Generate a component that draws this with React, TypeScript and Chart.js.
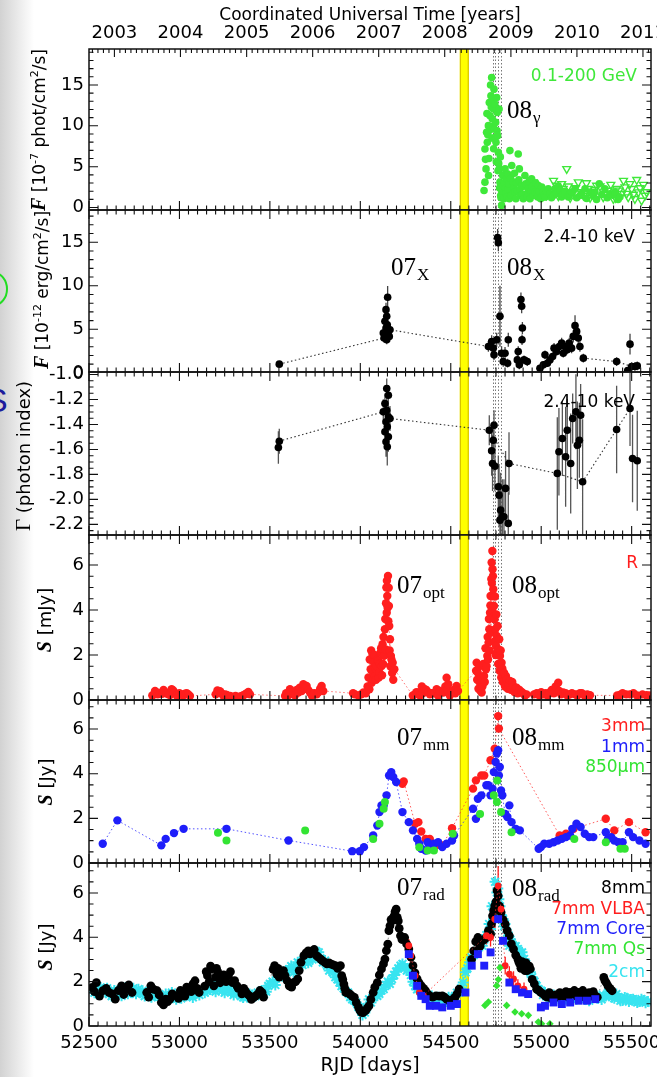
import { useEffect, useRef } from 'react';
import { Chart, registerables } from 'chart.js';

Chart.register(...registerables);

// ---------------- axes / reference marks ----------------
const X_MIN = 52500;
const X_MAX = 55607;
const RJD_TICKS = [52500, 53000, 53500, 54000, 54500, 55000, 55500];
const YEAR_TICKS = [52640.5, 53005.5, 53371.5, 53736.5, 54101.5, 54466.5, 54832.5, 55197.5, 55562.5];
const YEAR_LABELS = ['2003', '2004', '2005', '2006', '2007', '2008', '2009', '2010', '2011'];
const FLARE_BAND = [54550, 54600];
const EPOCH_LINES = [54733, 54747, 54761, 54775];

const GAMMA_TICKS = [0, 5, 10, 15];
const XRAY_TICKS = [0, 5, 10, 15];
const INDEX_TICKS = [-1.0, -1.2, -1.4, -1.6, -1.8, -2.0, -2.2];
const OPT_TICKS = [0, 2, 4, 6];
const MM_TICKS = [0, 2, 4, 6];
const RAD_TICKS = [0, 2, 4, 6];

type P = [number, number];

// ---------------- gamma rays 0.1-200 GeV (RJD, 1e-7 ph/cm2/s) ----------------
const GAMMA: P[] = [
  [54684, 2.09], [54689, 3.11], [54689, 7.17], [54692, 5.9], [54695, 4.73], [54698, 9.21], [54700, 11.5], [54702, 7.98],
  [54705, 8.9], [54708, 10.02], [54709, 3.92], [54711, 6.0], [54713, 12.86], [54715, 9.5], [54717, 11.24], [54720, 15.0],
  [54722, 13.68], [54724, 12.3], [54726, 15.91], [54728, 8.5], [54730, 10.83], [54731, 13.27], [54733, 9.9], [54735, 12.05],
  [54737, 7.2], [54739, 14.49], [54741, 9.61], [54744, 12.66], [54746, 8.6], [54748, 10.42], [54750, 7.98], [54752, 5.6],
  [54754, 13.47], [54756, 9.4], [54757, 11.64], [54759, 8.80], [54761, 4.5], [54763, 6.77], [54765, 5.4], [54767, 12.05],
  [54768, 4.73], [54770, 2.4], [54772, 3.11], [54774, 6.2], [54776, 1.48], [54778, 1.2], [54781, 0.26], [54783, 2.0],
  [54787, 3.92], [54790, 2.70], [54794, 1.07], [54796, 3.0], [54800, 4.73], [54803, 2.4], [54805, 1.68], [54809, 3.51],
  [54812, 1.3], [54815, 4.1], [54818, 2.30], [54821, 2.9], [54824, 1.07], [54827, 6.97], [54831, 3.6], [54834, 1.5],
  [54837, 5.14], [54842, 1.68], [54846, 3.11], [54849, 2.4], [54852, 4.2], [54855, 1.89], [54860, 1.07], [54864, 3.0],
  [54868, 2.1], [54873, 6.56], [54876, 3.4], [54879, 4.73], [54883, 2.2], [54886, 1.48], [54892, 2.70], [54896, 1.6],
  [54901, 1.07], [54905, 2.6], [54910, 3.92], [54914, 2.9], [54919, 1.68], [54923, 1.3], [54929, 2.30], [54933, 3.2],
  [54938, 1.07], [54943, 2.0], [54947, 3.51], [54951, 2.6], [54956, 1.48], [54960, 2.2], [54966, 1.89], [54970, 3.0],
  [54975, 1.68], [54980, 1.3], [54984, 2.70], [54990, 2.0], [54997, 1.07], [55003, 2.5], [55012, 1.89], [55016, 1.5],
  [55021, 1.28], [55030, 2.0], [55039, 2.30], [55048, 1.68], [55057, 1.2], [55067, 1.48], [55076, 2.30], [55085, 1.7],
  [55095, 2.6], [55104, 2.09], [55113, 1.3], [55122, 1.68], [55131, 2.0], [55150, 1.3], [55159, 1.68], [55168, 1.9],
  [55187, 2.30], [55196, 1.2], [55214, 1.48], [55223, 1.7], [55242, 2.30], [55251, 1.1], [55270, 1.89], [55288, 1.4],
  [55297, 1.89], [55306, 1.0], [55321, 2.90], [55335, 1.6], [55352, 2.30], [55365, 1.2], [55380, 1.68], [55395, 1.5],
  [55408, 1.89], [55425, 1.0], [55435, 1.28],
];
const GAMMA_UL: P[] = [
  [54956, 3.11], [55030, 1.48], [55050, 2.0], [55068, 3.3], [55085, 2.70], [55095, 1.4], [55113, 2.9], [55122, 2.30],
  [55141, 4.73], [55150, 2.6], [55160, 1.2], [55177, 1.89], [55190, 2.4], [55205, 3.11], [55220, 1.9], [55233, 1.48],
  [55250, 3.0], [55260, 2.30], [55270, 1.2], [55288, 1.68], [55297, 2.2], [55306, 2.70], [55325, 2.6], [55343, 1.28],
  [55355, 1.6], [55371, 2.09], [55385, 2.8], [55399, 1.07], [55410, 1.2], [55417, 2.30], [55430, 2.1], [55445, 1.68],
  [55455, 3.3], [55463, 2.50], [55472, 1.7], [55481, 1.28], [55490, 2.9], [55500, 2.30], [55510, 1.6], [55518, 1.07],
  [55528, 3.4], [55537, 1.89], [55546, 2.4], [55555, 0.87], [55565, 2.8], [55574, 1.48], [55582, 1.9],
];

// ---------------- X-rays 2.4-10 keV (RJD, flux, error) ----------------
const XRAY_RJD = [53552, 54127, 54131, 54136, 54136, 54142, 54142, 54146, 54146, 54149,
  54151, 54155, 54160, 54164, 54708, 54726, 54735, 54739, 54754, 54759,
  54763, 54772, 54781, 54790, 54800, 54814, 54818, 54868, 54873, 54879,
  54888, 54892, 54894, 54896, 54905, 54923, 54993, 55012, 55021, 55034,
  55048, 55063, 55071, 55085, 55100, 55113, 55122, 55131, 55144, 55155,
  55168, 55177, 55187, 55196, 55205, 55214, 55233, 55417, 55478, 55491,
  55500, 55518, 55531];
const XRAY_FLUX = [1.00, 4.57, 4.00, 5.92, 4.38, 7.26, 5.15, 6.49, 3.80, 5.53,
  8.68, 4.76, 4.19, 4.95, 3.03, 3.61, 2.84, 2.07, 3.80, 15.53,
  14.95, 6.49, 2.26, 1.30, 2.26, 1.11, 3.80, 1.49, 2.46, 0.92,
  8.42, 7.65, 3.80, 5.15, 1.49, 1.30, 0.53, 0.92, 2.07, 1.11,
  1.49, 1.88, 2.84, 2.46, 3.03, 3.42, 2.26, 3.03, 2.65, 3.42,
  2.84, 4.19, 5.42, 4.76, 4.00, 3.03, 1.69, 1.30, 0.27, 3.30,
  0.73, 0.73, 0.80];
const XRAY_ERR = [0.3, 0.5, 0.5, 0.6, 0.5, 0.8, 0.6, 0.7, 0.5, 0.6,
  1.3, 0.5, 0.5, 0.6, 0.6, 0.7, 0.6, 0.6, 0.8, 1.0,
  1.0, 3.5, 0.8, 0.6, 0.7, 0.5, 0.8, 0.6, 0.6, 0.5,
  0.8, 0.8, 0.6, 0.7, 0.5, 0.5, 0.4, 0.4, 0.5, 0.4,
  0.5, 0.5, 0.6, 0.5, 0.6, 0.6, 0.5, 0.6, 0.5, 0.6,
  0.6, 0.7, 1.2, 0.8, 0.7, 0.6, 0.5, 0.5, 0.4, 1.2,
  0.5, 0.5, 0.5];
const XRAY_LINK_A_RJD = [53552, 54131, 54164, 54708];
const XRAY_LINK_A_FLUX = [1.00, 4.00, 4.95, 3.03];
const XRAY_LINK_B_RJD = [55233, 55417, 55500];
const XRAY_LINK_B_FLUX = [1.69, 1.30, 0.73];

// ---------------- X-ray photon index ----------------
const INDEX_RJD = [53547, 53552, 54127, 54136, 54136, 54142, 54142, 54146, 54146, 54149,
  54149, 54155, 54155, 54155, 54164, 54713, 54726, 54731, 54735, 54739,
  54744, 54763, 54767, 54772, 54776, 54785, 54794, 54803, 54818, 54822,
  55089, 55098, 55117, 55135, 55144, 55163, 55174, 55192, 55200, 55211,
  55218, 55229, 55417, 55491, 55505, 55531];
const INDEX_VAL = [-1.584, -1.534, -1.299, -1.232, -1.459, -1.379, -1.539, -1.112, -1.286, -1.419,
  -1.579, -1.166, -1.339, -1.499, -1.352, -1.446, -1.611, -1.712, -1.526, -1.406,
  -1.734, -1.899, -1.966, -2.166, -2.086, -2.139, -2.139, -1.912, -2.192, -1.712,
  -1.792, -1.619, -1.512, -1.659, -1.446, -1.712, -1.352, -1.299, -1.566, -1.526,
  -1.326, -1.859, -1.440, -1.272, -1.672, -1.691];
const INDEX_ERR = [0.13, 0.10, 0.10, 0.08, 0.10, 0.10, 0.12, 0.08, 0.10, 0.10,
  0.15, 0.08, 0.10, 0.12, 0.10, 0.12, 0.20, 0.22, 0.15, 0.12,
  0.20, 0.25, 0.25, 0.30, 0.30, 0.30, 0.30, 0.30, 0.25, 0.25,
  0.45, 0.35, 0.30, 0.40, 0.25, 0.40, 0.20, 0.30, 0.35, 0.30,
  0.25, 0.50, 0.35, 0.30, 0.35, 0.40];
const INDEX_LINK_RJD = [53550, 54127, 54164, 54713, 54822, 55089, 55229, 55417, 55491];
const INDEX_LINK_VAL = [-1.534, -1.299, -1.352, -1.446, -1.712, -1.792, -1.859, -1.440, -1.272];

// ---------------- optical R band (RJD, mJy) ----------------
const OPT: P[] = [
  [52850, 0.20], [52859, 0.25], [52865, 0.40], [52874, 0.33], [52880, 0.25], [52893, 0.30], [52905, 0.28], [52912, 0.45],
  [52920, 0.36], [52928, 0.30], [52939, 0.25], [52948, 0.22], [52957, 0.48], [52965, 0.42], [52970, 0.36], [52985, 0.20],
  [53000, 0.30], [53012, 0.25], [53020, 0.20], [53031, 0.28], [53040, 0.30], [53049, 0.25], [53058, 0.18],
  [53200, 0.25], [53210, 0.42], [53215, 0.33], [53224, 0.39], [53232, 0.30], [53242, 0.20], [53252, 0.25], [53262, 0.22],
  [53280, 0.18], [53290, 0.15], [53310, 0.18], [53330, 0.15], [53344, 0.18], [53352, 0.20], [53362, 0.25], [53372, 0.30],
  [53381, 0.36], [53390, 0.25],
  [53584, 0.18], [53590, 0.30], [53600, 0.20], [53611, 0.48], [53620, 0.35], [53630, 0.25], [53639, 0.21], [53648, 0.45],
  [53657, 0.33], [53665, 0.55], [53676, 0.40], [53685, 0.70], [53695, 0.50], [53703, 0.62], [53712, 0.45], [53722, 0.33],
  [53732, 0.20], [53745, 0.30], [53759, 0.25], [53770, 0.35], [53778, 0.50], [53786, 0.62], [53795, 0.40],
  [53960, 0.30], [53970, 0.25], [53990, 0.20], [54005, 0.25], [54017, 0.33], [54030, 0.30], [54040, 0.60], [54045, 1.00],
  [54050, 0.48], [54052, 1.80], [54057, 1.37], [54060, 2.20], [54063, 0.77], [54066, 1.30], [54068, 2.03], [54072, 0.90],
  [54075, 1.66], [54078, 2.00], [54081, 1.07], [54084, 1.40], [54087, 0.90], [54090, 1.51], [54094, 1.80], [54099, 1.74],
  [54102, 1.00], [54105, 1.22], [54108, 1.60], [54112, 2.11], [54115, 2.30], [54118, 1.51], [54120, 1.10], [54123, 2.48],
  [54126, 1.60], [54128, 2.80], [54131, 1.96], [54134, 2.00], [54136, 3.14], [54138, 3.60], [54140, 2.25], [54142, 4.30],
  [54144, 5.00], [54146, 3.88], [54147, 5.30], [54149, 4.62], [54151, 4.10], [54153, 5.51], [54155, 3.50], [54157, 4.99],
  [54158, 4.18], [54160, 3.29], [54162, 2.20], [54164, 2.70], [54166, 1.50], [54169, 1.96], [54172, 1.80], [54176, 1.20],
  [54179, 1.66], [54182, 0.90], [54188, 1.37],
  [54290, 0.20], [54302, 0.25], [54310, 0.35], [54321, 0.33], [54330, 0.20], [54340, 0.60], [54345, 0.30], [54357, 0.48],
  [54365, 0.45], [54376, 0.33], [54385, 0.25], [54395, 0.30], [54410, 0.30], [54422, 0.48], [54430, 0.20], [54440, 0.40],
  [54459, 0.33], [54470, 0.60], [54477, 0.99], [54480, 0.45], [54486, 0.70], [54495, 0.20], [54505, 0.33], [54515, 0.45],
  [54525, 0.30], [54532, 0.62], [54540, 0.40],
  [54640, 1.30], [54643, 1.66], [54646, 0.90], [54649, 1.22], [54653, 0.50], [54657, 1.50], [54661, 0.77], [54665, 0.40],
  [54667, 1.00], [54671, 0.33], [54675, 0.60], [54680, 1.60], [54684, 1.07], [54688, 0.80], [54692, 2.30], [54695, 1.37],
  [54698, 1.50], [54702, 1.96], [54704, 2.80], [54706, 1.80], [54709, 2.55], [54711, 3.60], [54713, 3.14], [54715, 2.20],
  [54717, 3.88], [54719, 4.20], [54720, 4.62], [54722, 3.00], [54724, 5.37], [54726, 6.11], [54727, 5.20], [54729, 4.00],
  [54730, 6.62], [54731, 5.81], [54733, 5.50], [54735, 4.92], [54737, 3.70], [54739, 4.18], [54741, 2.60], [54742, 3.59],
  [54744, 4.60], [54746, 3.14], [54748, 2.00], [54750, 2.40], [54752, 3.80], [54754, 2.85], [54757, 2.10], [54759, 3.29],
  [54762, 1.60], [54765, 2.25], [54768, 2.70], [54770, 1.30], [54772, 1.96], [54776, 2.20], [54779, 1.00], [54781, 1.66],
  [54785, 1.40], [54788, 0.80], [54790, 1.22], [54795, 1.20], [54800, 0.60], [54805, 1.07], [54810, 0.90], [54815, 0.50],
  [54822, 0.70], [54827, 0.85], [54832, 0.45], [54840, 0.80], [54846, 0.62], [54852, 0.35], [54858, 0.50], [54864, 0.55],
  [54870, 0.30], [54880, 0.45], [54892, 0.36], [54900, 0.30], [54910, 0.20], [54919, 0.25],
  [54960, 0.25], [54975, 0.30], [54990, 0.20], [55000, 0.35], [55012, 0.25], [55025, 0.30], [55035, 0.20], [55048, 0.33],
  [55058, 0.45], [55070, 0.30], [55080, 0.60], [55094, 0.77], [55100, 0.40], [55110, 0.25], [55122, 0.33], [55135, 0.30],
  [55145, 0.20], [55159, 0.25], [55170, 0.30], [55190, 0.25], [55200, 0.20], [55214, 0.30], [55225, 0.30], [55240, 0.20],
  [55255, 0.25], [55270, 0.21],
  [55420, 0.20], [55435, 0.22], [55450, 0.30], [55470, 0.25], [55491, 0.25], [55510, 0.30], [55530, 0.20], [55560, 0.25],
  [55583, 0.21], [55600, 0.20],
];

// ---------------- mm (RJD, Jy) ----------------
const MM1_RJD = [52576, 52657, 52900, 52924, 52970, 53023, 53260, 53603, 53955, 53997,
  54020, 54071, 54094, 54106, 54117, 54129, 54145, 54159, 54171, 54182,
  54198, 54233, 54268, 54291, 54314, 54326, 54337, 54361, 54372, 54384,
  54407, 54430, 54453, 54477, 54507, 54518, 54623, 54639, 54650, 54669,
  54697, 54708, 54720, 54731, 54738, 54748, 54755, 54762, 54766, 54771,
  54778, 54785, 54801, 54813, 54824, 54836, 54859, 54882, 54986, 54998,
  55017, 55044, 55068, 55091, 55114, 55137, 55160, 55172, 55195, 55218,
  55241, 55265, 55288, 55357, 55369, 55387, 55404, 55427, 55450, 55485,
  55508, 55543, 55577];
const MM1_FLUX = [0.86, 1.91, 0.79, 1.08, 1.34, 1.53, 1.53, 1.01, 0.53, 0.53,
  0.71, 1.23, 1.68, 2.28, 2.58, 2.58, 3.03, 3.92, 4.07, 3.85,
  3.63, 2.28, 1.83, 1.46, 1.08, 0.86, 0.64, 0.56, 0.93, 0.71,
  0.86, 0.93, 0.71, 0.86, 1.01, 1.23, 2.43, 1.98, 2.88, 3.03,
  3.48, 3.48, 3.03, 3.33, 4.07, 4.52, 4.90, 5.05, 3.92, 4.30,
  3.25, 3.03, 2.20, 2.06, 2.58, 1.83, 1.53, 1.46, 0.64, 0.71,
  0.86, 0.86, 0.93, 1.01, 1.08, 1.16, 1.23, 1.53, 1.76, 1.61,
  1.31, 1.16, 1.16, 1.38, 1.08, 1.16, 1.01, 0.93, 0.93, 1.38,
  1.16, 1.01, 0.86];
const MM3_RJD = [54233, 54240, 54303, 54321, 54337, 54361, 54384, 54419, 54453, 54507,
  54623, 54639, 54669, 54685, 54720, 54743, 54762, 54766, 55102, 55137,
  55179, 55357, 55404, 55485, 55577];
const MM3_FLUX = [3.55, 3.65, 1.76, 1.83, 1.41, 1.08, 1.08, 0.79, 0.79, 1.56,
  3.33, 3.70, 3.92, 3.92, 4.60, 5.12, 6.58, 6.02, 1.23, 1.31,
  1.53, 1.98, 1.46, 1.83, 1.38];
const SUBMM_RJD = [53213, 53260, 53695, 54071, 54106, 54129, 54136, 54326, 54372, 54407,
  54511, 54662, 54738, 54755, 54757, 54778, 54836, 55183, 55357, 55438, 55462];
const SUBMM_FLUX = [1.35, 1.01, 1.46, 1.08, 1.76, 2.43, 2.73, 0.71, 0.56, 0.56,
  1.31, 2.20, 3.03, 2.73, 3.70, 2.28, 1.38, 1.08, 0.93, 0.64, 0.64];

// ---------------- radio (RJD, Jy) ----------------
const R8: P[] = [
  [52518, 1.74], [52530, 1.55], [52541, 1.96], [52558, 1.35], [52576, 1.59], [52595, 1.70], [52611, 1.51], [52628, 1.45],
  [52645, 1.21], [52662, 1.60], [52680, 1.81], [52692, 1.42], [52703, 1.66], [52720, 1.85], [52738, 1.51],
  [52819, 1.51], [52830, 1.30], [52842, 1.81], [52858, 1.65], [52877, 1.59], [52888, 1.40], [52900, 1.06], [52912, 0.95],
  [52924, 1.21], [52935, 1.10], [52947, 1.21], [52960, 1.45], [52982, 1.36], [52995, 1.25], [53005, 1.60], [53016, 1.51],
  [53030, 1.35], [53040, 1.75], [53051, 1.66], [53065, 1.55], [53075, 1.90], [53086, 2.04], [53098, 1.70], [53109, 1.51],
  [53140, 1.80], [53148, 2.45], [53155, 2.27], [53165, 2.00], [53172, 2.70], [53179, 2.57], [53190, 1.81], [53200, 2.20],
  [53205, 2.60], [53213, 2.42], [53225, 1.95], [53236, 2.12], [53245, 2.30], [53258, 2.00], [53271, 2.27], [53282, 2.45],
  [53294, 1.96], [53305, 2.05], [53318, 1.81], [53325, 1.70], [53345, 1.45], [53355, 1.70], [53364, 1.59], [53375, 1.45],
  [53387, 1.36], [53398, 1.20], [53410, 1.29], [53420, 1.35], [53433, 1.44], [53445, 1.60], [53457, 1.51], [53465, 1.30],
  [53518, 2.55], [53526, 2.72], [53538, 2.34], [53545, 2.60], [53552, 2.20], [53561, 2.42], [53575, 2.50], [53584, 2.27],
  [53595, 2.05], [53607, 1.81], [53620, 1.75], [53631, 1.96], [53642, 2.00], [53654, 2.12], [53662, 2.50], [53672, 2.87],
  [53688, 3.17], [53700, 3.30], [53712, 3.39], [53722, 3.25], [53735, 3.39], [53745, 3.45], [53758, 3.17], [53768, 3.10],
  [53781, 3.02], [53790, 2.95], [53804, 2.87], [53815, 2.80], [53827, 2.85], [53839, 2.79], [53850, 2.75], [53862, 2.72],
  [53875, 2.60], [53890, 2.72], [53897, 2.27], [53903, 2.10], [53909, 1.89], [53914, 1.70], [53920, 1.51], [53930, 1.50],
  [53943, 1.44], [53955, 1.35], [53967, 1.29], [53978, 1.05], [53990, 0.84], [53998, 0.70], [54006, 0.61], [54015, 0.60],
  [54029, 0.69], [54038, 0.80], [54048, 0.91], [54058, 1.20], [54071, 1.51], [54080, 1.75], [54094, 1.96], [54105, 2.30],
  [54117, 2.57], [54128, 2.80], [54136, 3.02], [54144, 3.40], [54152, 3.69], [54158, 4.30], [54164, 4.52], [54170, 4.80],
  [54175, 4.74], [54181, 4.85], [54187, 4.97], [54192, 5.15], [54198, 5.27], [54204, 4.90], [54210, 4.74], [54215, 4.40],
  [54222, 4.07], [54230, 3.90], [54245, 3.99], [54256, 3.70], [54268, 3.47], [54280, 3.10], [54291, 2.72], [54302, 2.40],
  [54314, 2.12], [54325, 1.95], [54337, 1.81], [54349, 1.70], [54361, 1.59], [54372, 1.45], [54384, 1.36], [54400, 1.30],
  [54419, 1.36], [54436, 1.35], [54453, 1.36], [54465, 1.30], [54477, 1.21], [54488, 1.15], [54500, 1.06], [54511, 1.20],
  [54523, 1.29], [54535, 1.45], [54546, 1.66],
  [54615, 3.00], [54627, 3.39], [54638, 3.80], [54650, 3.99], [54662, 3.60], [54674, 3.84], [54685, 3.90], [54697, 3.99],
  [54708, 4.30], [54720, 4.14], [54725, 4.60], [54731, 4.97], [54737, 5.20], [54743, 5.42], [54750, 5.60], [54756, 6.10],
  [54762, 5.87], [54770, 5.40], [54778, 5.12], [54789, 4.80], [54801, 4.59], [54812, 4.30], [54824, 4.07], [54835, 3.70],
  [54847, 3.47], [54859, 3.20], [54871, 3.02], [54876, 2.90], [54882, 2.79], [54888, 2.60], [54894, 2.90], [54905, 2.72],
  [54910, 2.50], [54916, 2.85], [54922, 2.50], [54928, 2.64], [54934, 2.70], [54940, 2.57], [54950, 2.10], [54962, 1.90],
  [54975, 1.66], [54987, 1.60], [54998, 1.51], [55010, 1.45], [55021, 1.36], [55033, 1.30], [55045, 1.50], [55057, 1.25],
  [55068, 1.36], [55080, 1.40], [55091, 1.30], [55103, 1.50], [55114, 1.44], [55125, 1.35], [55137, 1.55], [55149, 1.30],
  [55160, 1.51], [55172, 1.45], [55183, 1.60], [55195, 1.35], [55207, 1.51], [55218, 1.45], [55230, 1.60], [55241, 1.30],
  [55253, 1.44], [55265, 1.50], [55276, 1.35], [55288, 1.55], [55299, 1.36], [55310, 1.30],
  [55346, 2.19], [55352, 2.05], [55360, 1.95], [55369, 1.81], [55380, 1.70], [55392, 1.59],
];
const R2CM: P[] = [
  [52518, 1.66], [52530, 1.50], [52540, 1.60], [52553, 1.44], [52564, 1.74], [52590, 1.55], [52600, 1.70], [52611, 1.44],
  [52625, 1.35], [52640, 1.60], [52657, 1.59], [52670, 1.50], [52680, 1.36], [52690, 1.60], [52703, 1.74], [52715, 1.45],
  [52730, 1.55], [52745, 1.70], [52760, 1.45], [52773, 1.66], [52785, 1.50], [52796, 1.59], [52808, 1.35], [52819, 1.44],
  [52830, 1.50], [52845, 1.30], [52866, 1.36], [52880, 1.40], [52895, 1.30], [52910, 1.25], [52924, 1.44], [52940, 1.35],
  [52958, 1.51], [52970, 1.30], [52982, 1.21], [52995, 1.40], [53010, 1.25], [53025, 1.45], [53039, 1.36], [53050, 1.40],
  [53062, 1.55], [53074, 1.29], [53085, 1.45], [53097, 1.51], [53110, 1.40], [53125, 1.60], [53140, 1.50], [53155, 1.59],
  [53168, 1.65], [53179, 1.74], [53190, 1.80], [53200, 1.55], [53213, 1.96], [53225, 1.75], [53236, 1.59], [53250, 1.50],
  [53260, 1.70], [53271, 1.66], [53285, 1.55], [53300, 1.40], [53315, 1.60], [53329, 1.51], [53340, 1.35], [53352, 1.29],
  [53365, 1.45], [53375, 1.30], [53387, 1.44], [53400, 1.40], [53420, 1.35], [53433, 1.51], [53445, 1.45], [53455, 1.60],
  [53468, 1.44], [53480, 1.55], [53491, 1.81], [53500, 1.90], [53515, 2.00], [53530, 1.85], [53549, 2.19], [53560, 2.35],
  [53575, 2.25], [53590, 2.50], [53607, 2.57], [53618, 2.70], [53631, 2.42], [53642, 2.60], [53654, 2.87], [53665, 2.80],
  [53680, 2.75], [53690, 3.10], [53700, 3.02], [53712, 2.85], [53725, 3.15], [53735, 3.00], [53746, 3.17], [53758, 3.35],
  [53770, 3.32], [53780, 3.05], [53793, 2.87], [53805, 2.95], [53816, 2.72], [53828, 2.50], [53839, 2.57], [53850, 2.40],
  [53862, 2.20], [53873, 2.10], [53885, 1.96], [53896, 1.80], [53908, 1.70], [53920, 1.55], [53932, 1.51], [53944, 1.30],
  [53955, 1.20], [53966, 1.15], [53978, 1.06], [53990, 0.85], [54000, 0.75], [54012, 0.50], [54025, 0.61], [54036, 0.85],
  [54048, 1.20], [54059, 1.06], [54070, 1.30], [54082, 1.50], [54094, 1.36], [54105, 1.45], [54117, 1.60], [54129, 1.66],
  [54140, 1.85], [54152, 2.00], [54163, 1.90], [54175, 2.12], [54187, 2.30], [54198, 2.45], [54210, 2.60], [54222, 2.72],
  [54233, 2.80], [54245, 2.65], [54257, 2.50], [54268, 2.57], [54280, 2.30], [54291, 2.00], [54303, 1.81], [54314, 1.65],
  [54325, 1.70], [54337, 1.51], [54349, 1.40], [54360, 1.45], [54372, 1.36], [54384, 1.30], [54395, 1.35], [54407, 1.20],
  [54419, 1.29], [54430, 1.30], [54442, 1.15], [54453, 1.25], [54465, 1.21], [54477, 1.10], [54488, 1.30], [54500, 1.15],
  [54511, 1.21], [54523, 1.35], [54534, 1.50], [54546, 1.51], [54557, 1.70], [54569, 1.96], [54581, 2.42], [54592, 2.60],
  [54604, 2.87], [54615, 3.10], [54627, 3.20], [54639, 3.32], [54650, 3.50], [54662, 3.80], [54674, 3.62], [54685, 3.90],
  [54697, 4.10], [54708, 4.07], [54712, 4.60], [54720, 4.37], [54728, 5.40], [54738, 4.82], [54745, 6.50], [54755, 6.02],
  [54760, 6.20], [54766, 5.72], [54772, 5.40], [54778, 5.00], [54789, 4.82], [54795, 4.50], [54800, 4.60], [54813, 4.22],
  [54818, 4.00], [54824, 3.62], [54830, 3.90], [54836, 3.77], [54847, 3.60], [54859, 3.60], [54871, 3.47], [54882, 3.30],
  [54894, 3.32], [54905, 3.02], [54917, 2.80], [54928, 2.60], [54940, 2.42], [54950, 2.20], [54963, 2.00], [54975, 1.81],
  [54986, 1.65], [54998, 1.60], [55010, 1.40], [55021, 1.51], [55033, 1.35], [55044, 1.29], [55056, 1.25], [55068, 1.40],
  [55080, 1.20], [55091, 1.36], [55102, 1.30], [55114, 1.15], [55125, 1.14], [55137, 1.25], [55149, 1.30], [55160, 1.36],
  [55172, 1.20], [55183, 1.35], [55195, 1.21], [55207, 1.25], [55218, 1.30], [55230, 1.36], [55241, 1.20], [55253, 1.30],
  [55265, 1.14], [55276, 1.25], [55288, 1.40], [55299, 1.29], [55310, 1.25], [55322, 1.35], [55334, 1.20], [55346, 1.36],
  [55357, 1.35], [55369, 1.51], [55380, 1.45], [55392, 1.30], [55404, 1.25], [55415, 1.44], [55427, 1.30], [55438, 1.14],
  [55450, 1.15], [55462, 1.29], [55473, 1.25], [55485, 1.10], [55496, 1.20], [55508, 1.21], [55519, 1.15], [55531, 1.06],
  [55542, 1.10], [55554, 1.21], [55565, 1.15], [55577, 1.05], [55590, 1.10],
];
const VLBA_RJD = [54268, 54279, 54303, 54326, 54349, 54697, 54720, 54743, 54762, 54778,
  54801, 54824, 54847, 54871, 54905];
const VLBA_FLUX = [3.62, 3.17, 2.27, 1.51, 1.36, 4.07, 3.99, 4.82, 6.32, 5.27,
  2.72, 2.34, 2.12, 1.81, 1.66];
const VLBA_ERR = [0.3, 0.3, 0.3, 0.25, 0.25, 0.4, 0.4, 0.5, 0.9, 0.6,
  0.4, 0.35, 0.35, 0.3, 0.3];
const CORE_RJD = [54268, 54291, 54314, 54337, 54361, 54384, 54419, 54453, 54500, 54534,
  54581, 54616, 54650, 54685, 54720, 54762, 54789, 54824, 54859, 54894,
  54928, 54998, 55021, 55068, 55114, 55160, 55207, 55253, 55299];
const CORE_FLUX = [3.24, 2.27, 1.81, 1.36, 1.21, 0.91, 0.91, 0.84, 0.91, 0.99,
  1.51, 2.72, 3.24, 2.72, 3.32, 4.82, 3.84, 1.96, 1.66, 1.51,
  1.44, 0.84, 0.91, 1.06, 0.99, 1.06, 1.14, 1.14, 1.21];
const QS_RJD = [54689, 54708, 54754, 54763, 54772, 54809, 54855, 54892, 54929, 54984, 55002, 55048];
const QS_FLUX = [0.93, 1.08, 1.82, 2.10, 2.63, 0.93, 0.63, 0.55, 0.48, 0.18, 0.10, 0.10];

// ---------------- styling ----------------
const PAGE_W = 657;
const PAGE_H = 1077;
const PLOT_LEFT = 89;
const PLOT_RIGHT = 651;
const SANS = 'DejaVu Sans';
const C_GAMMA = '#3fe83a';
const C_RED = '#ff1e1e';
const C_BLUE = '#1e1efa';
const C_GREEN = '#33e433';
const C_CYAN = '#38e4f0';

const F17 = '17px "DejaVu Sans"';
const F18 = '18px "DejaVu Sans"';
const F11 = '11px "DejaVu Sans"';
const FBI = 'bold italic 20px "Liberation Serif"';

const pts = (xs: number[], ys: number[], es?: number[]) =>
  xs.map((x, i) => ({ x, y: ys[i], e: es ? es[i] : 0 }));
const pairs = (arr: P[]) =>
  arr.map(([x, y]) => ({ x, y, e: 0 })).sort((a, b) => a.x - b.x);

function dots(data: any[], color: string, extra: any = {}) {
  return {
    data,
    pointStyle: 'circle',
    pointRadius: 3.6,
    pointBackgroundColor: color,
    pointBorderColor: color,
    pointBorderWidth: 0,
    showLine: false,
    ...extra,
  };
}

function dotted(data: any[], color: string, width = 1.1) {
  return {
    data,
    showLine: true,
    borderColor: color,
    borderWidth: width,
    borderDash: [1.5, 2.5],
    pointRadius: 0,
    fill: false,
    tension: 0,
  };
}

const PANELS: any[] = [
  {
    top: 49, bottom: 210, yMin: -0.3, yMax: 19.4, ticks: GAMMA_TICKS, minor: 1, topAxis: true,
    title: { x: 39, y: 130, segs: [{ t: 'F', f: FBI }, { t: ' [10', f: F17 }, { t: '-7', f: F11, up: 7 }, { t: ' phot/cm', f: F17 }, { t: '2', f: F11, up: 7 }, { t: '/s]', f: F17 }] },
    notes: [{ x: 507, y: 118, main: '08', sub: 'γ' }],
    legend: [{ x: 637, y: 77, text: '0.1-200 GeV', color: C_GAMMA }],
    datasets: () => [
      dots(pairs(GAMMA), C_GAMMA, { pointRadius: 3.8 }),
      {
        data: pairs(GAMMA_UL), showLine: false, pointStyle: 'triangle', pointRotation: 180,
        pointRadius: 4.5, pointBackgroundColor: 'rgba(0,0,0,0)', pointBorderColor: C_GAMMA, pointBorderWidth: 1.4,
      },
    ],
  },
  {
    top: 210, bottom: 372, yMin: 0.1, yMax: 18.7, ticks: XRAY_TICKS, minor: 1,
    title: { x: 42, y: 290, segs: [{ t: 'F', f: FBI }, { t: ' [10', f: F17 }, { t: '-12', f: F11, up: 7 }, { t: ' erg/cm', f: F17 }, { t: '2', f: F11, up: 7 }, { t: '/s]', f: F17 }] },
    notes: [{ x: 391, y: 275, main: '07', sub: 'X' }, { x: 507, y: 275, main: '08', sub: 'X' }],
    legend: [{ x: 635, y: 238, text: '2.4-10 keV', color: '#000' }],
    datasets: () => [
      dots(pts(XRAY_RJD, XRAY_FLUX, XRAY_ERR), '#000', { errColor: '#444', pointRadius: 3.8 }),
      dotted(pts(XRAY_LINK_A_RJD, XRAY_LINK_A_FLUX), '#333'),
      dotted(pts(XRAY_LINK_B_RJD, XRAY_LINK_B_FLUX), '#333'),
    ],
  },
  {
    top: 372, bottom: 535, yMin: -2.285, yMax: -0.98, ticks: INDEX_TICKS, minor: 0.05, fmt: 1,
    title: { x: 24, y: 456, segs: [{ t: 'Γ', f: '21px "Liberation Serif"' }, { t: ' (photon index)', f: F18 }] },
    notes: [],
    legend: [{ x: 635, y: 403, text: '2.4-10 keV', color: '#000' }],
    datasets: () => [
      dots(pts(INDEX_RJD, INDEX_VAL, INDEX_ERR), '#000', { errColor: '#555', pointRadius: 3.8 }),
      dotted(pts(INDEX_LINK_RJD, INDEX_LINK_VAL), '#333'),
    ],
  },
  {
    top: 535, bottom: 700, yMin: 0, yMax: 7.33, ticks: OPT_TICKS, minor: 0.5,
    title: { x: 45, y: 620, segs: [{ t: 'S', f: FBI }, { t: ' [mJy]', f: F18 }] },
    notes: [{ x: 397, y: 593, main: '07', sub: 'opt' }, { x: 512, y: 593, main: '08', sub: 'opt' }],
    legend: [{ x: 638, y: 564, text: 'R', color: C_RED }],
    datasets: () => [
      {
        ...dots(pairs(OPT), C_RED, { pointRadius: 4.2 }),
        showLine: true, borderColor: 'rgba(255,70,70,0.75)', borderWidth: 1, borderDash: [1.5, 2.5], tension: 0,
      },
    ],
  },
  {
    top: 700, bottom: 863, yMin: 0, yMax: 7.3, ticks: MM_TICKS, minor: 0.5,
    title: { x: 46, y: 782, segs: [{ t: 'S', f: FBI }, { t: ' [Jy]', f: F18 }] },
    notes: [{ x: 397, y: 745, main: '07', sub: 'mm' }, { x: 512, y: 745, main: '08', sub: 'mm' }],
    legend: [
      { x: 645, y: 727, text: '3mm', color: C_RED },
      { x: 645, y: 748, text: '1mm', color: C_BLUE },
      { x: 645, y: 768, text: '850µm', color: C_GREEN },
    ],
    datasets: () => [
      dots(pts(SUBMM_RJD, SUBMM_FLUX), C_GREEN, { pointRadius: 4 }),
      {
        ...dots(pts(MM1_RJD, MM1_FLUX), C_BLUE, { pointRadius: 4.2 }),
        showLine: true, borderColor: 'rgba(40,40,255,0.8)', borderWidth: 1, borderDash: [1.5, 2.5], tension: 0,
      },
      {
        ...dots(pts(MM3_RJD, MM3_FLUX), C_RED, { pointRadius: 4.2 }),
        showLine: true, borderColor: 'rgba(255,50,50,0.8)', borderWidth: 1, borderDash: [1.5, 2.5], tension: 0,
      },
    ],
  },
  {
    top: 863, bottom: 1026, yMin: 0, yMax: 7.35, ticks: RAD_TICKS, minor: 0.5, bottomAxis: true,
    title: { x: 46, y: 947, segs: [{ t: 'S', f: FBI }, { t: ' [Jy]', f: F18 }] },
    notes: [{ x: 397, y: 895, main: '07', sub: 'rad' }, { x: 512, y: 896, main: '08', sub: 'rad' }],
    legend: [
      { x: 645, y: 889, text: '8mm', color: '#000' },
      { x: 645, y: 910, text: '7mm VLBA', color: C_RED },
      { x: 645, y: 930, text: '7mm Core', color: C_BLUE },
      { x: 645, y: 950, text: '7mm Qs', color: C_GREEN },
      { x: 645, y: 973, text: '2cm', color: C_CYAN },
    ],
    datasets: () => [
      {
        data: pts(QS_RJD, QS_FLUX), showLine: false, pointStyle: 'rectRot', pointRadius: 3.8,
        pointBackgroundColor: C_GREEN, pointBorderColor: C_GREEN, pointBorderWidth: 0,
      },
      {
        data: pts(CORE_RJD, CORE_FLUX), showLine: false, pointStyle: 'rect', pointRadius: 5.6,
        pointBackgroundColor: C_BLUE, pointBorderColor: C_BLUE, pointBorderWidth: 0,
      },
      {
        ...dots(pts(VLBA_RJD, VLBA_FLUX, VLBA_ERR), C_RED, { pointRadius: 3.4, errColor: C_RED }),
        showLine: true, borderColor: 'rgba(255,50,50,0.8)', borderWidth: 1, borderDash: [1.5, 2.5], tension: 0,
      },
      dots(pairs(R8), '#000', { pointRadius: 4.4 }),
      {
        data: pairs(R2CM), showLine: false, pointStyle: 'star', pointRadius: 5.5,
        pointBackgroundColor: C_CYAN, pointBorderColor: C_CYAN, pointBorderWidth: 2,
      },
      dotted(pairs(R8), '#888', 1),
    ],
  },
];

function drawVertical(ctx: CanvasRenderingContext2D, cx: number, cy: number, segs: any[]) {
  ctx.save();
  ctx.translate(cx, cy);
  ctx.rotate(-Math.PI / 2);
  ctx.fillStyle = '#000';
  ctx.textAlign = 'left';
  ctx.textBaseline = 'alphabetic';
  let total = 0;
  const widths = segs.map((s) => {
    ctx.font = s.f;
    const w = ctx.measureText(s.t).width;
    total += w;
    return w;
  });
  let x = -total / 2;
  segs.forEach((s, i) => {
    ctx.font = s.f;
    ctx.fillText(s.t, x, 6 - (s.up || 0));
    x += widths[i];
  });
  ctx.restore();
}

function makeDecor(p: any, idx: number) {
  return {
    id: 'decor' + idx,
    beforeDatasetsDraw(chart: any) {
      const { ctx, chartArea: a } = chart;
      const xs = chart.scales.x;
      const ys = chart.scales.y;
      ctx.save();
      ctx.beginPath();
      ctx.rect(a.left, a.top, a.right - a.left, a.bottom - a.top);
      ctx.clip();
      const b0 = xs.getPixelForValue(FLARE_BAND[0]);
      const b1 = xs.getPixelForValue(FLARE_BAND[1]);
      ctx.fillStyle = '#ffff00';
      ctx.fillRect(b0, a.top, b1 - b0, a.bottom - a.top);
      ctx.strokeStyle = '#d8c400';
      ctx.lineWidth = 1.2;
      [b0 + 0.6, b1 - 0.6].forEach((x) => {
        ctx.beginPath();
        ctx.moveTo(x, a.top);
        ctx.lineTo(x, a.bottom);
        ctx.stroke();
      });
      ctx.strokeStyle = '#777';
      ctx.lineWidth = 1;
      ctx.setLineDash([1.5, 2]);
      EPOCH_LINES.forEach((v) => {
        const x = Math.round(xs.getPixelForValue(v)) + 0.5;
        ctx.beginPath();
        ctx.moveTo(x, a.top);
        ctx.lineTo(x, a.bottom);
        ctx.stroke();
      });
      ctx.setLineDash([]);
      chart.data.datasets.forEach((ds: any) => {
        if (!ds.errColor) return;
        ctx.strokeStyle = ds.errColor;
        ctx.lineWidth = 1.3;
        ctx.beginPath();
        ds.data.forEach((pt: any) => {
          if (!pt.e) return;
          const x = xs.getPixelForValue(pt.x);
          ctx.moveTo(x, ys.getPixelForValue(pt.y + pt.e));
          ctx.lineTo(x, ys.getPixelForValue(pt.y - pt.e));
        });
        ctx.stroke();
      });
      ctx.restore();
    },
    afterDraw(chart: any) {
      const { ctx, chartArea: a } = chart;
      const xs = chart.scales.x;
      const ys = chart.scales.y;
      ctx.save();
      ctx.strokeStyle = '#111';
      ctx.lineWidth = 1.1;
      ctx.beginPath();
      for (let v = X_MIN; v <= X_MAX; v += 50) {
        const x = xs.getPixelForValue(v);
        const L = (v - X_MIN) % 500 === 0 ? 9 : 4.5;
        ctx.moveTo(x, a.bottom);
        ctx.lineTo(x, a.bottom - L);
        if (!p.topAxis) {
          ctx.moveTo(x, a.top);
          ctx.lineTo(x, a.top + L);
        }
      }
      if (p.topAxis) {
        for (let i = -1; i < YEAR_TICKS.length; i++) {
          const base = i < 0 ? YEAR_TICKS[0] - 365 : YEAR_TICKS[i];
          for (let m = 0; m < 12; m++) {
            const v = base + (m * 365.25) / 12;
            if (v < X_MIN || v > X_MAX) continue;
            const x = xs.getPixelForValue(v);
            const L = m === 0 ? 8 : 4;
            ctx.moveTo(x, a.top);
            ctx.lineTo(x, a.top + L);
          }
        }
      }
      const n0 = Math.ceil(p.yMin / p.minor - 1e-9);
      const n1 = Math.floor(p.yMax / p.minor + 1e-9);
      for (let n = n0; n <= n1; n++) {
        const v = n * p.minor;
        const y = ys.getPixelForValue(v);
        const major = p.ticks.some((t: number) => Math.abs(t - v) < 1e-6);
        const L = major ? 9 : 4.5;
        ctx.moveTo(a.left, y);
        ctx.lineTo(a.left + L, y);
        ctx.moveTo(a.right, y);
        ctx.lineTo(a.right - L, y);
      }
      ctx.stroke();
      ctx.lineWidth = 1.5;
      ctx.strokeRect(a.left, a.top, a.right - a.left, a.bottom - a.top);

      ctx.fillStyle = '#000';
      ctx.textAlign = 'center';
      ctx.textBaseline = 'middle';
      if (p.topAxis) {
        ctx.font = F18;
        YEAR_TICKS.forEach((v, i) => ctx.fillText(YEAR_LABELS[i], xs.getPixelForValue(v), 33));
        ctx.font = F17;
        ctx.fillText('Coordinated Universal Time [years]', (a.left + a.right) / 2, 16);
      }
      if (p.bottomAxis) {
        ctx.font = F18;
        RJD_TICKS.forEach((v) => ctx.fillText(String(v), xs.getPixelForValue(v), 1043));
        ctx.font = '19px "DejaVu Sans"';
        ctx.fillText('RJD [days]', (a.left + a.right) / 2, 1066);
      }

      drawVertical(ctx, p.title.x, p.title.y, p.title.segs);

      p.notes.forEach((n: any) => {
        ctx.fillStyle = '#000';
        ctx.textAlign = 'left';
        ctx.textBaseline = 'alphabetic';
        ctx.font = '25px "Liberation Serif"';
        ctx.fillText(n.main, n.x, n.y);
        const w = ctx.measureText(n.main).width;
        ctx.font = '17px "Liberation Serif"';
        ctx.fillText(n.sub, n.x + w + 1, n.y + 5);
      });

      ctx.font = F17;
      ctx.textAlign = 'right';
      ctx.textBaseline = 'middle';
      p.legend.forEach((l: any) => {
        ctx.fillStyle = l.color;
        ctx.fillText(l.text, l.x, l.y);
      });
      ctx.restore();
    },
  };
}

function buildConfig(p: any, idx: number): any {
  const tickFont = { family: SANS, size: 18 };
  return {
    type: 'scatter',
    data: { datasets: p.datasets() },
    options: {
      animation: false,
      responsive: false,
      maintainAspectRatio: false,
      events: [],
      layout: {
        autoPadding: false,
        padding: { left: 0, right: PAGE_W - PLOT_RIGHT, top: p.top, bottom: PAGE_H - p.bottom },
      },
      plugins: { legend: { display: false }, tooltip: { enabled: false }, title: { display: false } },
      scales: {
        x: { type: 'linear', min: X_MIN, max: X_MAX, bounds: 'data', display: false },
        y: {
          type: 'linear', min: p.yMin, max: p.yMax, bounds: 'data', position: 'left',
          grid: { display: false, drawTicks: false },
          border: { display: false },
          afterBuildTicks: (s: any) => { s.ticks = p.ticks.map((v: number) => ({ value: v })); },
          ticks: { autoSkip: false, padding: 5, color: '#000', font: tickFont, callback: (v: any) => (p.fmt ? Number(v).toFixed(p.fmt) : String(v)) },
          afterFit: (s: any) => { s.width = PLOT_LEFT; },
        },
      },
    },
    plugins: [makeDecor(p, idx)],
  };
}

export default function App() {
  const refs = useRef<(HTMLCanvasElement | null)[]>([]);
  useEffect(() => {
    const charts = PANELS.map((p, i) => new Chart(refs.current[i] as HTMLCanvasElement, buildConfig(p, i)));
    return () => charts.forEach((c) => c.destroy());
  }, []);
  return (
    <div style={{ position: 'absolute', left: 0, top: 0, width: PAGE_W, height: PAGE_H, background: '#fff', overflow: 'hidden' }}>
      <div style={{ position: 'absolute', left: 0, top: 0, width: 34, height: PAGE_H, background: 'linear-gradient(to right, #d2d2d2, rgba(255,255,255,0))' }} />
      <div style={{ position: 'absolute', left: -20, top: 272, width: 24, height: 30, border: '2.5px solid #22dd22', borderRadius: '50%' }} />
      <div style={{ position: 'absolute', left: -15, top: 383, fontFamily: 'Liberation Sans', fontSize: 34, lineHeight: '34px', color: '#1c1c9c' }}>S</div>
      {PANELS.map((_, i) => (
        <canvas
          key={i}
          ref={(el) => { refs.current[i] = el; }}
          width={PAGE_W}
          height={PAGE_H}
          style={{ position: 'absolute', left: 0, top: 0, width: PAGE_W, height: PAGE_H }}
        />
      ))}
    </div>
  );
}
